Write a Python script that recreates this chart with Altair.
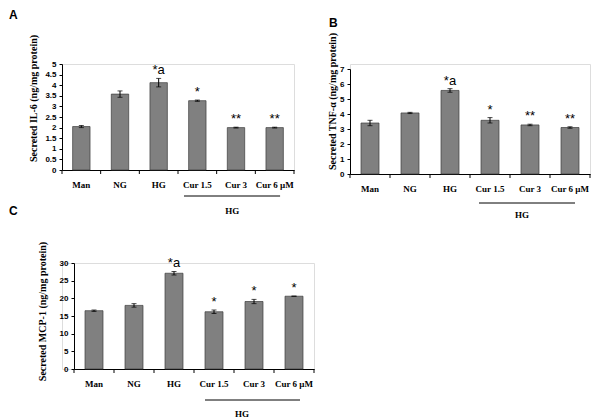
import altair as alt
import pandas as pd

cats = ["Man", "NG", "HG", "Cur 1.5", "Cur 3", "Cur 6 µM"]

il6_vals = [2.05, 3.58, 4.12, 3.27, 2.00, 2.00]
il6_errs = [0.05, 0.15, 0.20, 0.03, 0.02, 0.02]
il6_ann = ["", "", "*a", "*", "**", "**"]

tnf_vals = [3.40, 4.07, 5.57, 3.58, 3.27, 3.10]
tnf_errs = [0.18, 0.04, 0.12, 0.18, 0.05, 0.05]
tnf_ann = ["", "", "*a", "*", "**", "**"]

mcp_vals = [16.5, 18.0, 27.1, 16.2, 19.1, 20.6]
mcp_errs = [0.2, 0.5, 0.5, 0.5, 0.6, 0.0]
mcp_ann = ["", "", "*a", "*", "*", "*"]

il6_ticks = [0, 0.5, 1, 1.5, 2, 2.5, 3, 3.5, 4, 4.5, 5]
tnf_ticks = [0, 1, 2, 3, 4, 5, 6, 7]
mcp_ticks = [0, 5, 10, 15, 20, 25, 30]

group_label = "HG"
group_start, group_end, group_mid = "Cur 1.5", "Cur 6 µM", "Cur 3"

SERIF = "Liberation Serif"
SANS = "Liberation Sans"


def panel(letter, vals, errs, ann, ticks, ytitle, width, height,
          xrange, yrange, yoffset,
          letter_xy, title_xy, line_y, text_y, bp_start, bp_end, bp_text):
    df = pd.DataFrame({
        "cat": cats, "val": vals,
        "lo": [v - e for v, e in zip(vals, errs)],
        "hi": [v + e for v, e in zip(vals, errs)],
        "ann": ann,
    })
    xscale = alt.Scale(domain=cats, paddingInner=0, paddingOuter=0,
                       range=xrange)
    yscale = alt.Scale(domain=[ticks[0], ticks[-1]], nice=False,
                       range=yrange)
    xaxis = alt.Axis(labelAngle=0, ticks=False, domainColor="black",
                     labelFont=SERIF, labelFontWeight="bold",
                     labelFontSize=9, labelColor="black",
                     labelPadding=10, labelOverlap=False,
                     labelBound=False)
    yaxis = alt.Axis(values=ticks, format="~r", grid=False,
                     offset=yoffset, labelOverlap=False, tickCount=len(ticks),
                     domainColor="black", tickColor="black",
                     tickSize=3, labelPadding=3,
                     labelFont=SANS, labelFontWeight="bold",
                     labelFontSize=8, labelColor="black",
                     titleFont=SERIF, titleFontWeight="bold",
                     titleFontSize=10, titleColor="black",
                     titleAngle=-90, titleAlign="center",
                     titleBaseline="middle",
                     titleX=title_xy[0], titleY=title_xy[1])

    def X(field="cat:N", **kw):
        return alt.X(field, sort=cats, scale=xscale, title=None, axis=xaxis, **kw)

    def Y(field):
        return alt.Y(field, scale=yscale, title=ytitle, axis=yaxis)

    base = alt.Chart(df)
    bars = base.mark_bar(width={"band": 0.45}, color="#808080",
                         stroke="#3c3c3c", strokeWidth=0.7).encode(
        x=X(), y=Y("val:Q"))
    err = base.mark_rule(color="black", strokeWidth=1).encode(
        x=X(), y=Y("lo:Q"), y2="hi:Q")
    cap_lo = base.mark_tick(color="black", size=5, thickness=1).encode(
        x=X(), y=Y("lo:Q"))
    cap_hi = base.mark_tick(color="black", size=5, thickness=1).encode(
        x=X(), y=Y("hi:Q"))
    stars = base.mark_text(font=SANS, fontSize=13, color="black",
                           baseline="alphabetic", dy=-4).encode(
        x=X(), y=Y("hi:Q"), text="ann:N")
    xt = base.mark_rule(color="black", strokeWidth=1).encode(
        x=X(bandPosition=0),
        y=alt.value(height), y2=alt.value(height + 4))
    xt_end = alt.Chart(pd.DataFrame({"cat": [cats[-1]]})).mark_rule(
        color="black", strokeWidth=1).encode(
        x=X(bandPosition=1),
        y=alt.value(height), y2=alt.value(height + 4))
    gdf = pd.DataFrame({"s": [group_start], "e": [group_end],
                        "m": [group_mid], "t": [group_label]})
    gline = alt.Chart(gdf).mark_rule(color="black", strokeWidth=1).encode(
        x=X("s:N", bandPosition=bp_start),
        x2=alt.X2("e", bandPosition=bp_end),
        y=alt.value(height + line_y))
    gtext = alt.Chart(gdf).mark_text(font=SERIF, fontWeight="bold",
                                     fontSize=9, color="black",
                                     baseline="middle").encode(
        x=X("m:N", bandPosition=bp_text),
        y=alt.value(height + text_y), text="t:N")
    ldf = pd.DataFrame({"l": [letter]})
    lab = alt.Chart(ldf).mark_text(font=SANS, fontWeight="bold", fontSize=12,
                                   color="black", align="left",
                                   baseline="alphabetic").encode(
        x=alt.value(letter_xy[0]), y=alt.value(letter_xy[1]), text="l:N")
    return alt.layer(bars, err, cap_lo, cap_hi, stars, xt, xt_end,
                     gline, gtext, lab).properties(width=width, height=height)


A = panel("A", il6_vals, il6_errs, il6_ann, il6_ticks,
          "Secreted IL-6 (ng/mg protein)", 232, 106,
          [0, 232], [106, 0], 0,
          (-53, -45), (-29, 34), 26, 41, 0.155, 0.64, 0.4)
B = panel("B", tnf_vals, tnf_errs, tnf_ann, tnf_ticks,
          "Secreted TNF-α (ng/mg protein)", 240, 110,
          [0, 240], [110, 5], 0,
          (-21, -37), (-18, 37), 29, 41, 0.225, 0.625, 0.3)
C = panel("C", mcp_vals, mcp_errs, mcp_ann, mcp_ticks,
          "Secreted MCP-1 (ng/mg protein)", 252, 106,
          [12, 252], [106, 0], -12,
          (-53, -48), (-32, 48), 31, 45, 0.275, 0.65, 0.2)

chart = alt.concat(A, B, C, columns=2, bounds="flush",
                   spacing={"row": 89, "column": 36}).properties(
    padding={"left": 0, "top": 0, "right": 0, "bottom": 0}
).resolve_scale(x="independent", y="independent").configure_view(
    stroke=None).configure(background="white")

chart.save("out.html", embed_options={"renderer": "svg", "actions": False})
